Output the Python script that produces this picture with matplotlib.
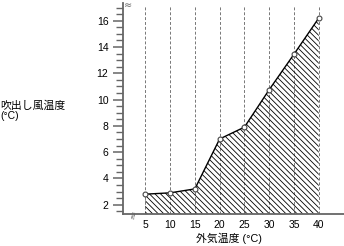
import matplotlib
matplotlib.use("Agg")
import matplotlib.pyplot as plt
from matplotlib.ticker import MultipleLocator

outside_temp = [5, 10, 15, 20, 25, 30, 35, 40]
outlet_temp = [2.8, 2.9, 3.2, 7.0, 7.9, 10.75, 13.45, 16.2]
x_ticks = [5, 10, 15, 20, 25, 30, 35, 40]
y_ticks = [2, 4, 6, 8, 10, 12, 14, 16]

plt.rcParams['font.family'] = ['Liberation Sans', 'Noto Sans CJK JP', 'DejaVu Sans']
plt.rcParams['hatch.linewidth'] = 0.6

fig = plt.figure(figsize=(3.44, 2.46), dpi=100)
ax = fig.add_axes([123/344, 32/246, 221/344, 211/246])
xmin, xmax = 0.5, 45.1
ymin, ymax = 1.29, 17.35
ax.set_xlim(xmin, xmax)
ax.set_ylim(ymin, ymax)

axis_col = '#666666'
for s in ['top', 'right']:
    ax.spines[s].set_visible(False)
for s in ['left', 'bottom']:
    ax.spines[s].set_color(axis_col)
    ax.spines[s].set_linewidth(1.3)

# dashed guides
for xv in x_ticks:
    ax.plot([xv, xv], [ymin, 17.1], color='#777777', lw=0.7,
            dashes=(3, 2), zorder=1)

# hatched area
ax.fill_between(outside_temp, outlet_temp, ymin, facecolor='none',
                edgecolor='black', hatch='\\' * 6, linewidth=0, zorder=2)
ax.plot(outside_temp, outlet_temp, color='black', lw=1.0, zorder=3)
ax.plot(outside_temp, outlet_temp, 'o', ms=3.5, mfc='white',
        mec='#444444', mew=0.8, zorder=4)

ax.set_xticks(x_ticks)
ax.set_yticks(y_ticks)
ax.yaxis.set_minor_locator(MultipleLocator(0.5))
ax.tick_params(axis='x', length=0, pad=4, labelsize=7.5)
ax.tick_params(axis='y', which='major', length=7, width=1.1,
               color=axis_col, pad=3.5, labelsize=7.5)
ax.tick_params(axis='y', which='minor', length=5, width=1.0, color=axis_col)

# axis break marks
ax.text(1.6, 17.2, '≈', fontsize=7, ha='center', va='center',
        color=axis_col, family='DejaVu Sans')
ax.text(2.6, ymin, '≈', fontsize=8, ha='center', va='center',
        color=axis_col, rotation=80, family='DejaVu Sans')

fig.text(0.0, 1 - 105.5/246, '吹出し風温度', fontsize=7.8, ha='left',
         va='center')
fig.text(0.0, 1 - 116/246, '(°C)', fontsize=7.5, ha='left', va='center')
fig.text(229/344, 1 - 238/246, '外気温度 (°C)', fontsize=7.8,
         ha='center', va='center')

fig.savefig('out.png', dpi=100)
